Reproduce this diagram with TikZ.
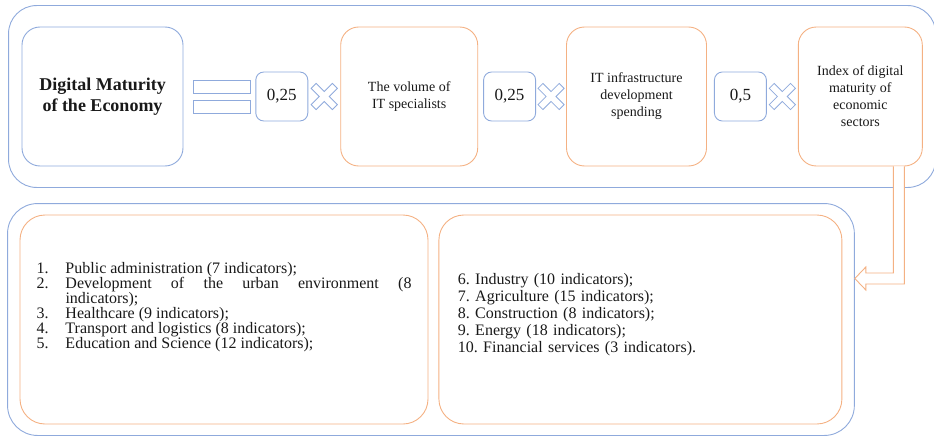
\documentclass[tikz,border=0pt]{standalone}
\usepackage{fontspec}
\setmainfont{Liberation Serif}
\usetikzlibrary{positioning,fit,calc}
\definecolor{schemeblue}{HTML}{8FAADC}
\definecolor{schemeorange}{HTML}{F4B183}
\tikzset{timessign/.pic={\draw[draw=schemeblue,line width=0.8pt,rotate=45] (3.5,15)--(3.5,3.5)--(15,3.5)--(15,-3.5)--(3.5,-3.5)--(3.5,-15)--(-3.5,-15)--(-3.5,-3.5)--(-15,-3.5)--(-15,3.5)--(-3.5,3.5)--(-3.5,15)--cycle;}}

\begin{document}
\begin{tikzpicture}[x=1pt,y=-1pt, every node/.style={text=black!90},
 bluebox/.style={draw=schemeblue,line width=0.9pt,rounded corners=18pt,minimum height=139pt,align=center,inner sep=0pt},
 orangebox/.style={draw=schemeorange,line width=0.9pt,rounded corners=18pt,minimum height=139pt,align=center,inner sep=0pt,font=\fontsize{14}{17}\selectfont},
 weightbox/.style={draw=schemeblue,line width=0.9pt,rounded corners=8pt,minimum width=52pt,minimum height=49pt,inner sep=0pt,font=\fontsize{17}{20}\selectfont},
 eqbar/.style={draw=schemeblue,line width=0.9pt,minimum width=57pt,minimum height=13pt,inner sep=0pt},
 listbox/.style={draw=schemeorange,line width=0.9pt,rounded corners=25pt,minimum height=209pt,inner sep=0pt},
 listtext/.style={inner sep=0pt,font=\frenchspacing\fontsize{16}{15}\selectfont},
 outerbox/.style={draw=schemeblue,line width=0.9pt,rounded corners=28pt},
 hollowarrow/.style={draw=schemeorange,line width=0.9pt,fill=white}]
\useasboundingbox (0,0) rectangle (934,436);
% upper row
\node[bluebox,minimum width=161pt,font=\bfseries\fontsize{18}{21}\selectfont] (digital) at (102.5,96.5) {Digital Maturity\\of the Economy};
\node[eqbar,anchor=west] (eqtop) at ([xshift=10pt,yshift=10pt]digital.east) {};
\node[eqbar,below=7pt of eqtop] (eqbot) {};
\node[weightbox,anchor=west] (w1) at ([xshift=4pt]eqtop.east |- digital.east) {0,25};
\node[orangebox,minimum width=137pt,right=32pt of w1] (volume) {The volume of\\IT specialists};
\node[weightbox,right=5pt of volume] (w2) {0,25};
\node[orangebox,minimum width=140pt,right=30pt of w2] (infra) {IT infrastructure\\development\\spending};
\node[weightbox,right=7pt of infra] (w3) {0,5};
\node[orangebox,minimum width=124pt,right=31pt of w3] (index) {Index of digital\\maturity of\\economic\\sectors};
\foreach \a/\b in {w1/volume,w2/infra,w3/index}
  \pic at ($(\a.east)!0.5!(\b.west)$) {timessign};
\node[outerbox,fit=(digital)(index),inner xsep=13pt,inner ysep=21pt] (upper) {};
% lower row
\node[listbox,minimum width=408pt] (leftbox) at (224,319.5) {};
\node[listbox,minimum width=403pt,right=10pt of leftbox] (rightbox) {};
\node[listtext,text width=375pt,align=justify] (leftlist) at ([yshift=12pt]leftbox.center) {\parindent=0pt
\hangindent=29pt\makebox[29pt][l]{1.}Public administration (7 indicators);\par
\hangindent=29pt\makebox[29pt][l]{2.}Development of the urban environment (8\linebreak indicators);\par
\hangindent=29pt\makebox[29pt][l]{3.}Healthcare (9 indicators);\par
\hangindent=29pt\makebox[29pt][l]{4.}Transport and logistics (8 indicators);\par
\hangindent=29pt\makebox[29pt][l]{5.}Education and Science (12 indicators);};
\node[listtext,text width=365pt,align=left,font=\frenchspacing\fontsize{16}{17}\selectfont] (rightlist) at ([yshift=5pt]rightbox.center) {6. Industry (10 indicators);\\7. Agriculture (15 indicators);\\8. Construction (8 indicators);\\9. Energy (18 indicators);\\10. Financial services (3 indicators).};
\node[outerbox,rounded corners=30pt,fit=(leftbox)(rightbox),inner xsep=12pt,inner ysep=11pt] (lower) {};
% link to the sectors
\coordinate (tip) at ([yshift=41pt]lower.east);
\draw[hollowarrow] ([xshift=33pt]index.south) |- ($(tip)+(11,-5.5)$) -- ++(0,-6) -- (tip) -- ++(11,11.5) -- ++(0,-6) -| ([xshift=44pt]index.south);
\end{tikzpicture}
\end{document}
